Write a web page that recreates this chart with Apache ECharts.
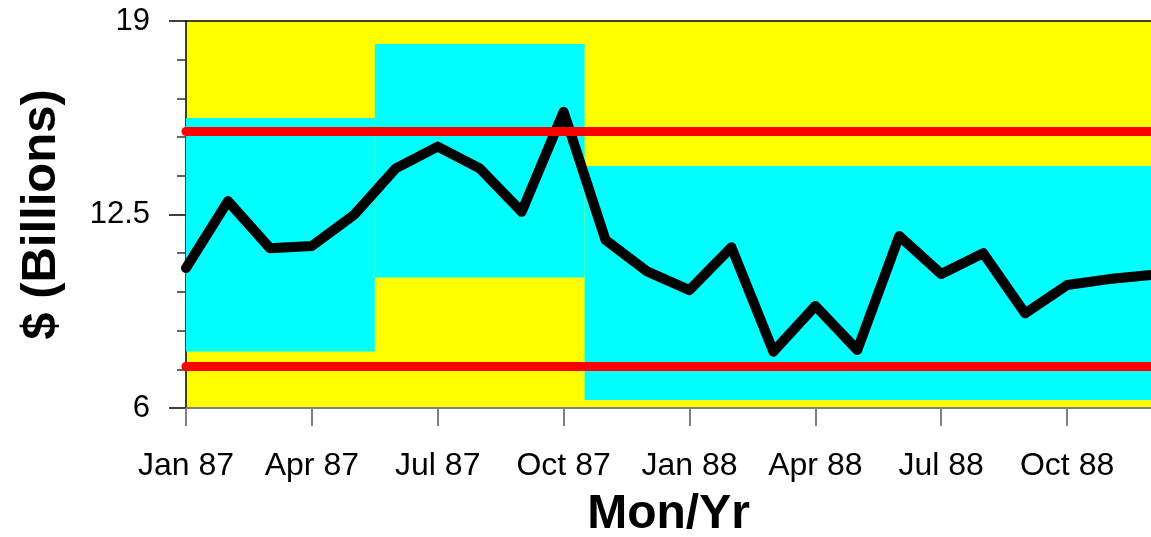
<!DOCTYPE html>
<html>
<head>
<meta charset="utf-8">
<script src="https://cdn.jsdelivr.net/npm/echarts@6/dist/echarts.min.js"></script>
<style>
  html, body { margin: 0; padding: 0; background: #fff; }
  #chart { width: 1151px; height: 537px; }
</style>
</head>
<body>
<div id="chart"></div>
<script>
// months, Jan 87 .. Dec 88
const months = [
  'Jan 87', 'Feb 87', 'Mar 87', 'Apr 87', 'May 87', 'Jun 87',
  'Jul 87', 'Aug 87', 'Sep 87', 'Oct 87', 'Nov 87', 'Dec 87',
  'Jan 88', 'Feb 88', 'Mar 88', 'Apr 88', 'May 88', 'Jun 88',
  'Jul 88', 'Aug 88', 'Sep 88', 'Oct 88', 'Nov 88', 'Dec 88',
];
const values = [
  10.70, 12.95, 11.37, 11.44, 12.48, 14.05,
  14.78, 14.05, 12.59, 15.95, 11.64, 10.58,
  9.96, 11.40, 7.89, 9.43, 7.95, 11.78,
  10.50, 11.20, 9.18, 10.13, 10.33, 10.47,
];
// month indices where x ticks / labels sit
const xTicks = [0, 3, 6, 9, 12, 15, 18, 21];
const yLabels = [6, 12.5, 19];
const yMinorTicks = [7.3, 8.6, 9.9, 11.2, 13.8, 15.1, 16.4, 17.7];
// shaded phase boxes: start month, end month, upper, lower
const phaseStart = [0, 4.5, 9.5];
const phaseEnd = [4.5, 9.5, 23];
const phaseUpper = [15.74, 18.23, 14.13];
const phaseLower = [7.90, 10.38, 6.27];
const limitLines = [15.28, 7.40];

const font = "'Liberation Sans', Arial, sans-serif";
const chart = echarts.init(document.getElementById('chart'));

const option = {
  animation: false,
  grid: {
    left: 186,
    right: 0,
    top: 21,
    bottom: 129,
    outerBoundsMode: 'none',
    containLabel: false,
    show: true,
    backgroundColor: '#FFFF00',
    borderWidth: 0,
  },
  xAxis: [
    {
      type: 'value',
      min: 0,
      max: months.length - 1,
      position: 'bottom',
      name: 'Mon/Yr',
      nameLocation: 'middle',
      nameGap: 83,
      nameTextStyle: { fontFamily: font, fontSize: 48, fontWeight: 'bold', color: '#000' },
      axisLine: { lineStyle: { color: '#808080', width: 2 } },
      axisTick: {
        customValues: xTicks,
        length: 18,
        lineStyle: { color: '#808080', width: 2 },
      },
      axisLabel: {
        customValues: xTicks,
        formatter: v => months[v],
        fontFamily: font,
        fontSize: 32,
        color: '#000',
        margin: 42,
      },
      splitLine: { show: false },
    },
    {
      type: 'value',
      min: 0,
      max: months.length - 1,
      position: 'top',
      axisLine: { lineStyle: { color: '#000', width: 1.5 } },
      axisTick: { show: false },
      axisLabel: { show: false },
      splitLine: { show: false },
    },
  ],
  yAxis: [
    {
      type: 'value',
      min: 6,
      max: 19,
      position: 'left',
      name: '$ (Billions)',
      nameLocation: 'middle',
      nameGap: 120,
      nameTextStyle: { fontFamily: font, fontSize: 49, fontWeight: 'bold', color: '#000' },
      axisLine: { show: true, lineStyle: { color: '#000', width: 1.5 } },
      axisTick: {
        show: true,
        customValues: yLabels,
        length: 17,
        lineStyle: { color: '#000', width: 1.5 },
      },
      axisLabel: {
        customValues: yLabels,
        fontFamily: font,
        fontSize: 31,
        color: '#000',
        margin: 36,
      },
      splitLine: { show: false },
    },
    {
      type: 'value',
      min: 6,
      max: 19,
      position: 'left',
      axisLine: { show: false },
      axisTick: {
        show: true,
        customValues: yMinorTicks,
        length: 9,
        lineStyle: { color: '#333', width: 1.5 },
      },
      axisLabel: { show: false },
      splitLine: { show: false },
    },
  ],
  series: [
    {
      name: 'phases',
      type: 'line',
      z: 1,
      data: [],
      silent: true,
      markArea: {
        silent: true,
        itemStyle: { color: '#00FFFF', opacity: 1 },
        data: phaseStart.map((s, i) => [
          { coord: [s, phaseUpper[i]] },
          { coord: [phaseEnd[i], phaseLower[i]] },
        ]),
      },
    },
    {
      name: 'limits',
      type: 'line',
      z: 2,
      data: [],
      silent: true,
      markLine: {
        silent: true,
        symbol: 'none',
        label: { show: false },
        lineStyle: { color: '#FF0000', width: 9, type: 'solid', cap: 'round' },
        data: limitLines.map(v => ({ yAxis: v })),
      },
    },
    {
      name: 'value',
      type: 'line',
      z: 3,
      symbol: 'none',
      data: values.map((v, i) => [i, v]),
      lineStyle: { color: '#000', width: 10, join: 'round', cap: 'round' },
    },
  ],
};

chart.setOption(option);
window.addEventListener('resize', () => chart.resize());
</script>
</body>
</html>
